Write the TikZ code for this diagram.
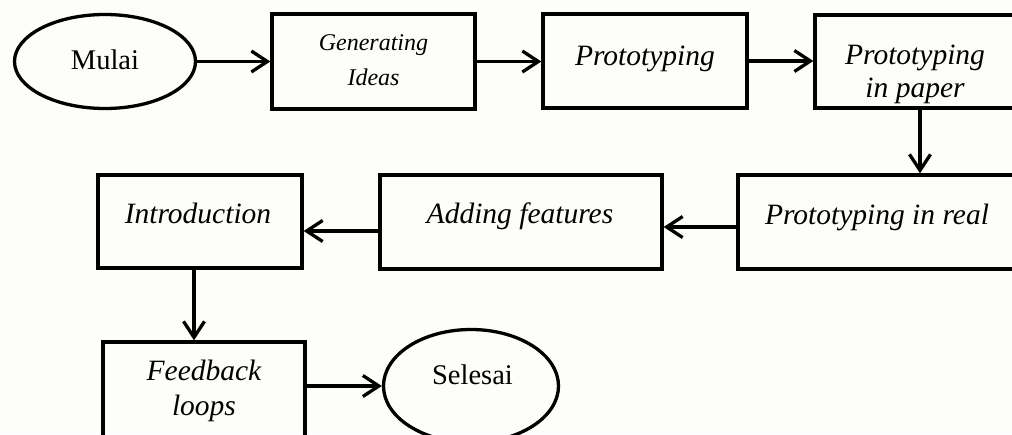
\documentclass[tikz,border=0pt]{standalone}
\usepackage{fontspec}
\setmainfont{Liberation Serif}
\usetikzlibrary{arrows.meta,shapes.geometric}
\definecolor{bgc}{RGB}{253,253,250}
\begin{document}
\begin{tikzpicture}[x=1pt,y=-1pt,
  line width=3.3pt,
  box/.style={draw,rectangle,inner sep=0pt},
  ell/.style={draw,ellipse,inner sep=0pt},
  lbl/.style={anchor=base,inner sep=0pt,align=center,font=\fontsize{29.5}{33}\selectfont\itshape},
  slbl/.style={anchor=base,inner sep=0pt,align=center,font=\fontsize{24}{35}\selectfont\itshape},
  ulbl/.style={anchor=base,inner sep=0pt,font=\fontsize{28.5}{33}\selectfont},
  arr/.style={-{Straight Barb[length=16pt,width=21pt,line width=3.3pt]}},
]
\useasboundingbox (0,0) rectangle (1012,434);
\clip (0,0) rectangle (1012,434);
\fill[bgc] (0,0) rectangle (1012,434);

% shapes
\node[ell, minimum width=181pt, minimum height=94pt] (mulai) at (105,61.5) {};
\node[box, minimum width=203pt, minimum height=95pt] (gen) at (373.5,61.5) {};
\node[box, minimum width=204pt, minimum height=94pt] (proto) at (645,61) {};
\node[box, minimum width=210pt, minimum height=93pt] (paper) at (920,61.5) {};
\node[box, minimum width=287pt, minimum height=94pt] (real) at (881.5,222) {};
\node[box, minimum width=282pt, minimum height=94pt] (adding) at (521,222) {};
\node[box, minimum width=204pt, minimum height=93pt] (intro) at (200,221.5) {};
\node[box, minimum width=202pt, minimum height=118pt] (feedback) at (204,401) {};
\node[ell, minimum width=175pt, minimum height=113pt] (selesai) at (471,386) {};

% texts (base anchor = baseline of the last line)
\node[ulbl] (tmulai) at (105,69) {Mulai};
\node[slbl] (tgen) at (373.5,85) {Generating\\Ideas};
\node[lbl] (tproto) at (645,65) {Prototyping};
\node[lbl] (tpaper) at (915,97) {Prototyping\\in paper};
\node[lbl] (treal) at (877,224) {Prototyping in real};
\node[lbl] (tadding) at (520,223) {Adding features};
\node[lbl] (tintro) at (198,223) {Introduction};
\node[lbl, font=\fontsize{29.5}{35}\selectfont\itshape] (tfeed) at (204,415) {Feedback\\loops};
\node[ulbl] (tsel) at (472.5,384) {Selesai};

% connectors
\draw[arr] (mulai.east |- gen.west) -- (gen.west);
\draw[arr] (gen.east) -- (proto.west |- gen.east);
\draw[arr] (proto.east) -- (paper.west |- proto.east);
\draw[arr] (paper.south) -- (paper.south |- real.north);
\draw[arr] ([yshift=-5pt]real.west) -- ([yshift=-5pt]adding.east);
\draw[arr] ([yshift=-9pt]adding.west) -- ([yshift=-9.5pt]intro.east);
\draw[arr] ([xshift=-6pt]intro.south) -- ([xshift=-10pt]feedback.north);
\draw[arr] (selesai.west -| feedback.east) -- (selesai.west);
\end{tikzpicture}
\end{document}
